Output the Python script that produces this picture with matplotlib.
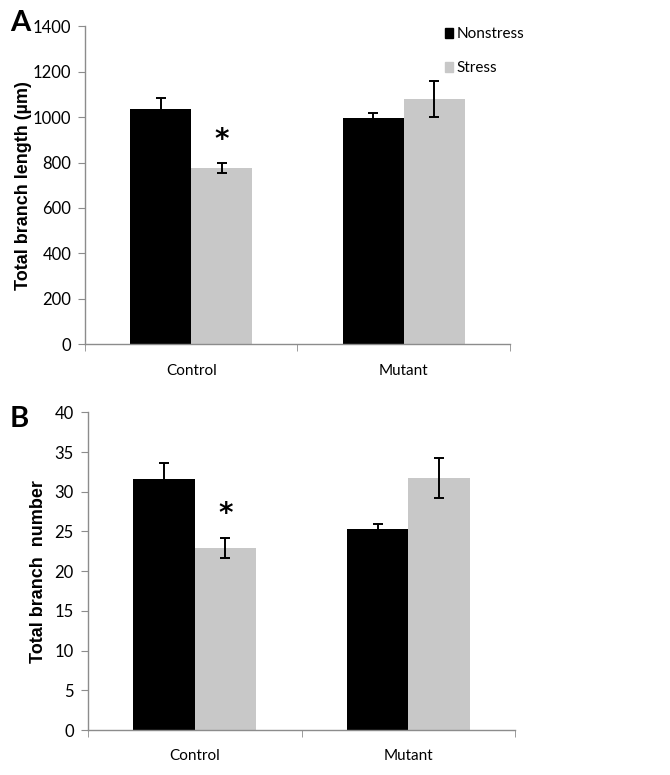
import matplotlib
matplotlib.use("Agg")
import matplotlib.pyplot as plt
import numpy as np
from matplotlib.patches import Patch

categories = ["Control", "Mutant"]
series = ["Nonstress", "Stress"]

length_nonstress = [1035, 995]
length_nonstress_err = [50, 25]
length_stress = [775, 1080]
length_stress_err = [23, 80]

number_nonstress = [31.6, 25.3]
number_nonstress_err = [2.0, 0.7]
number_stress = [22.9, 31.7]
number_stress_err = [1.3, 2.55]

colors = ["#000000", "#C8C8C8"]
spine_col = "#8C8C8C"
tick_font = "Lato"

fig = plt.figure(figsize=(6.7, 7.75), dpi=100)
axA = fig.add_axes([0.127, 0.556, 0.634, 0.410])
axB = fig.add_axes([0.131, 0.058, 0.638, 0.410])

def draw(ax, ns, nse, st, ste, ymax, ystep, ylabel, star_y, label_x, label_size):
    x = np.arange(len(categories))
    w = 0.288
    ax.bar(x - w/2, ns, w, color=colors[0], zorder=2)
    ax.bar(x + w/2, st, w, color=colors[1], zorder=2)
    ax.errorbar(x - w/2, ns, yerr=nse, fmt="none", ecolor="black", elinewidth=1.4, capsize=3.5, capthick=1.4, zorder=3)
    ax.errorbar(x + w/2, st, yerr=ste, fmt="none", ecolor="black", elinewidth=1.4, capsize=3.5, capthick=1.4, zorder=3)
    ax.text(x[0] + w/2, star_y, "*", ha="center", va="center", fontsize=20, fontweight="bold", family="DejaVu Sans")
    ax.set_xlim(-0.5, 1.5)
    ax.set_ylim(0, ymax)
    ax.set_yticks(np.arange(0, ymax + ystep/2, ystep))
    ax.set_xticks(x)
    ax.set_xticklabels(categories, fontsize=11, family=tick_font)
    ax.set_xticks([-0.5, 0.5, 1.5], minor=True)
    ax.tick_params(axis="x", which="major", length=0, pad=14)
    ax.tick_params(axis="x", which="minor", length=5, color=spine_col, direction="out")
    ax.tick_params(axis="y", length=5, color=spine_col, direction="out", labelsize=12, pad=5)
    for lab in ax.get_yticklabels():
        lab.set_family(tick_font)
    for s in ["top", "right"]:
        ax.spines[s].set_visible(False)
    for s in ["left", "bottom"]:
        ax.spines[s].set_color(spine_col)
        ax.spines[s].set_linewidth(1.0)
    ax.set_ylabel(ylabel, fontsize=label_size, fontweight="bold", family="Liberation Sans")
    ax.yaxis.set_label_coords(label_x, 0.5)

draw(axA, length_nonstress, length_nonstress_err, length_stress, length_stress_err,
     1400, 200, "Total branch length (µm)", 900, -0.125, 13)
draw(axB, number_nonstress, number_nonstress_err, number_stress, number_stress_err,
     40, 5, "Total branch  number", 27.2, -0.096, 13)

handles = [Patch(color=colors[0]), Patch(color=colors[1])]
axA.legend(handles, series, loc="upper left", bbox_to_anchor=(0.815, 1.04), frameon=False,
           handlelength=0.5, handleheight=0.65, handletextpad=0.25, labelspacing=1.3,
           prop={"family": tick_font, "size": 11})

fig.text(0.015, 0.970, "A", fontsize=21, fontweight="bold", family=tick_font, va="center")
fig.text(0.015, 0.459, "B", fontsize=21, fontweight="bold", family=tick_font, va="center")

fig.savefig("out.png", dpi=100)
